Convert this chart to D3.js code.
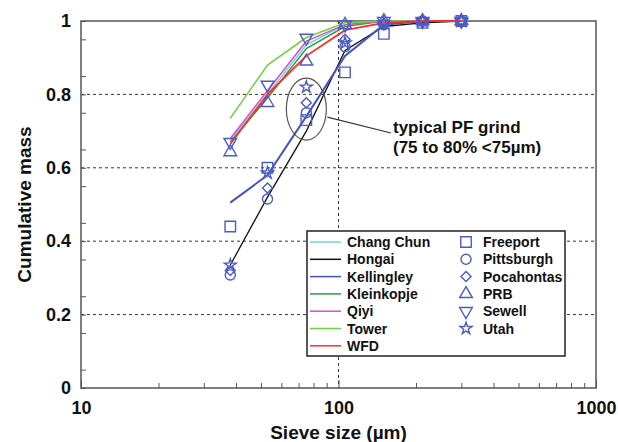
<!DOCTYPE html>
<meta charset="utf-8">
<style>
body { margin: 0; background: #fff; font-family: "Liberation Sans", Arial, sans-serif; }
.axis path { display: none; }
.axis line { stroke: #555; stroke-width: 1; }
.axis text { font-size: 18px; font-weight: bold; fill: #111; font-family: "Liberation Sans", Arial, sans-serif; }
.grid line { stroke: #333; stroke-width: 1; stroke-dasharray: 3,3; }
.legend text { font-size: 14px; font-weight: bold; fill: #111; }
</style>
<body>
<script src="https://d3js.org/d3.v7.min.js"></script>
<script>
// sieve sizes (um)
var sizes = [38, 53, 75, 106, 150, 212, 300];

// line series (cumulative mass)
var changChun  = [0.675, 0.80, 0.935, 0.99, 1.0, 1.0, 1.0];
var hongai     = [0.335, 0.52, 0.70, 0.92, 0.985, 0.995, 1.0];
var kellingley = [0.505, 0.58, 0.74, 0.905, 0.99, 1.0, 1.0];
var kleinkopje = [0.67, 0.79, 0.925, 0.985, 1.0, 1.0, 1.0];
var qiyi       = [0.68, 0.81, 0.945, 0.99, 1.0, 1.0, 1.0];
var tower      = [0.735, 0.88, 0.955, 0.995, 1.0, 1.0, 1.0];
var wfd        = [0.665, 0.80, 0.905, 0.975, 0.995, 1.0, 1.0];

// marker series
var freeport   = [0.44, 0.60, 0.73, 0.86, 0.965, 0.995, 1.0];
var pittsburgh = [0.308, 0.515, 0.75, 0.93, 0.99, 1.0, 1.0];
var pocahontas = [0.32, 0.545, 0.777, 0.95, 0.99, 1.0, 1.0];
var prb        = [0.643, 0.777, 0.89, 0.99, 1.0, 1.0, 1.0];
var sewell     = [0.67, 0.826, 0.954, 0.99, 1.0, 1.0, 1.0];
var utah       = [0.335, 0.586, 0.82, 0.94, 0.995, 1.0, 1.0];

var lineNames = ["Chang Chun", "Hongai", "Kellingley", "Kleinkopje", "Qiyi", "Tower", "WFD"];
var lineVals = [changChun, hongai, kellingley, kleinkopje, qiyi, tower, wfd];
var lineColors = ["#6fd0e0", "#111111", "#4453c4", "#2f9e3a", "#d452c4", "#72d044", "#ff2a2a"];
var lineWidths = [1.5, 1.3, 2, 1.5, 1.5, 1.5, 1.8];

var markNames = ["Freeport", "Pittsburgh", "Pocahontas", "PRB", "Sewell", "Utah"];
var markVals = [freeport, pittsburgh, pocahontas, prb, sewell, utah];
var markColor = "#4b5cc4";

var xMajor = [10, 100, 1000];
var yMajor = [0, 0.2, 0.4, 0.6, 0.8, 1];

var W = 618, H = 442;
var pLeft = 81, pRight = 596, pTop = 21, pBottom = 388;

var x = d3.scaleLog().domain([10, 1000]).range([pLeft, pRight]);
var y = d3.scaleLinear().domain([0, 1]).range([pBottom, pTop]);

var svg = d3.select("body").append("svg")
    .attr("width", W)
    .attr("height", H);

// grid lines
var grid = svg.append("g").attr("class", "grid");
grid.selectAll(".gy")
    .data([0.2, 0.4, 0.6, 0.8])
  .enter().append("line")
    .attr("x1", pLeft).attr("x2", pRight)
    .attr("y1", function(d) { return y(d); })
    .attr("y2", function(d) { return y(d); });
grid.append("line")
    .attr("x1", x(100)).attr("x2", x(100))
    .attr("y1", pTop).attr("y2", pBottom);

// minor ticks
var xMinor = [];
[10, 100].forEach(function(b) { for (var i = 2; i <= 9; i++) xMinor.push(b * i); });
svg.append("g")
    .attr("class", "axis")
    .attr("transform", "translate(0," + pBottom + ")")
    .call(d3.axisBottom(x).tickValues(xMinor).tickSize(-5).tickFormat(""));
svg.append("g")
    .attr("class", "axis")
    .attr("transform", "translate(0," + pBottom + ")")
    .call(d3.axisBottom(x).tickValues(xMajor).tickSize(-8).tickPadding(13).tickFormat(d3.format("d")));

var yMinor = d3.range(0.05, 1, 0.1);
svg.append("g")
    .attr("class", "axis")
    .attr("transform", "translate(" + pLeft + ",0)")
    .call(d3.axisLeft(y).tickValues(yMinor).tickSize(-5).tickFormat(""));
svg.append("g")
    .attr("class", "axis")
    .attr("transform", "translate(" + pLeft + ",0)")
    .call(d3.axisLeft(y).tickValues(yMajor).tickSize(-5).tickPadding(10)
      .tickFormat(function(d) { return d === 0 || d === 1 ? d3.format("d")(d) : d3.format(".1f")(d); }));

// frame
svg.append("rect")
    .attr("x", pLeft).attr("y", pTop)
    .attr("width", pRight - pLeft).attr("height", pBottom - pTop)
    .attr("fill", "none").attr("stroke", "#555").attr("stroke-width", 1.5);

// series lines
var line = d3.line()
    .x(function(d, i) { return x(sizes[i]); })
    .y(function(d) { return y(d); });

svg.selectAll(".series")
    .data(lineVals)
  .enter().append("path")
    .attr("class", "series")
    .attr("d", line)
    .attr("fill", "none")
    .attr("stroke", function(d, i) { return lineColors[i]; })
    .attr("stroke-width", function(d, i) { return lineWidths[i]; });

// markers
var symbols = [d3.symbolSquare, d3.symbolCircle, d3.symbolSquare, d3.symbolTriangle, d3.symbolTriangle, d3.symbolStar];
var symSizes = [110, 80, 50, 70, 70, 45];
var rot = [0, 0, 45, 0, 180, 0];

function drawMarker(g, k, px, py) {
  g.append("path")
    .attr("d", d3.symbol().type(symbols[k]).size(symSizes[k])())
    .attr("transform", "translate(" + px + "," + py + ") rotate(" + rot[k] + ")")
    .attr("fill", "none")
    .attr("stroke", markColor)
    .attr("stroke-width", 1.4);
}

var mg = svg.append("g");
markVals.forEach(function(vals, k) {
  vals.forEach(function(v, i) { drawMarker(mg, k, x(sizes[i]), y(v)); });
});

// annotation: ellipse + leader + text
svg.append("ellipse")
    .attr("cx", x(75)).attr("cy", y(0.76))
    .attr("rx", 20).attr("ry", 31)
    .attr("fill", "none").attr("stroke", "#555").attr("stroke-width", 1.2);
svg.append("line")
    .attr("x1", x(75) + 21).attr("y1", y(0.76) + 8)
    .attr("x2", 391).attr("y2", 133)
    .attr("stroke", "#333").attr("stroke-width", 1.2);
svg.append("text")
    .attr("x", 393).attr("y", 133)
    .style("font-size", "17px").style("font-weight", "bold").attr("fill", "#111")
    .text("typical PF grind");
svg.append("text")
    .attr("x", 393).attr("y", 153)
    .style("font-size", "17px").style("font-weight", "bold").attr("fill", "#111")
    .text("(75 to 80% <75\u00b5m)");

// legend
var lg = svg.append("g").attr("class", "legend");
lg.append("rect")
    .attr("x", 307).attr("y", 231).attr("width", 258).attr("height", 125)
    .attr("fill", "#fff").attr("stroke", "#222").attr("stroke-width", 1.5);
lineNames.forEach(function(n, i) {
  var ly = 242 + i * 17.3;
  lg.append("line")
      .attr("x1", 310).attr("x2", 341).attr("y1", ly).attr("y2", ly)
      .attr("stroke", lineColors[i]).attr("stroke-width", 1.5);
  lg.append("text").attr("x", 347).attr("y", ly + 5).text(n);
});
markNames.forEach(function(n, k) {
  var ly = 242 + k * 17.3;
  drawMarker(lg, k, 466, ly);
  lg.append("text").attr("x", 483).attr("y", ly + 5).text(n);
});

// axis titles
svg.append("text")
    .attr("x", x(100)).attr("y", 439)
    .attr("text-anchor", "middle")
    .style("font-size", "19px").style("font-weight", "bold").attr("fill", "#111")
    .text("Sieve size (\u00b5m)");
svg.append("text")
    .attr("transform", "translate(31," + ((pTop + pBottom) / 2) + ") rotate(-90)")
    .attr("text-anchor", "middle")
    .style("font-size", "19px").style("font-weight", "bold").attr("fill", "#111")
    .text("Cumulative mass");
</script>
</body>
